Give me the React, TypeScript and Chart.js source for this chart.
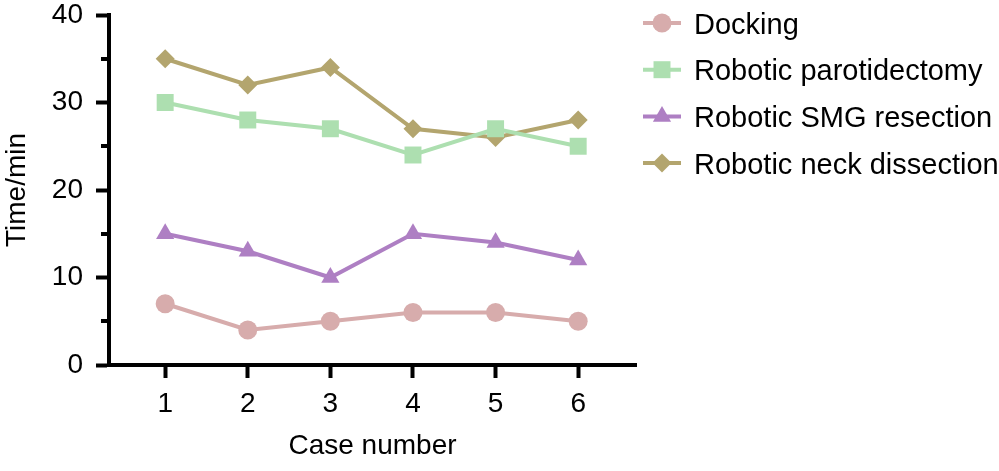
import React, { useEffect, useRef } from "react";
import { Chart, registerables } from "chart.js";

Chart.register(...registerables);

const cases = [1, 2, 3, 4, 5, 6];
const docking = [7, 4, 5, 6, 6, 5];
const parotidectomy = [30, 28, 27, 24, 27, 25];
const smgResection = [15, 13, 10, 15, 14, 12];
const neckDissection = [35, 32, 34, 27, 26, 28];
const seriesNames = [
  "Docking",
  "Robotic parotidectomy",
  "Robotic SMG resection",
  "Robotic neck dissection",
];
const yMajorTicks = [0, 10, 20, 30, 40];
const yMinorTicks = [5, 15, 25, 35];

const FONT = "'Liberation Sans', Arial, Helvetica, sans-serif";
const COLORS = ["#d7acac", "#addfb0", "#ae7fc3", "#b3a56e"];
const STYLES = ["circle", "rect", "triangle", "rectRot"];
const RADII = [9.5, 12, 10.5, 9.5];

function drawMarker(ctx: CanvasRenderingContext2D, style: string, x: number, y: number, r: number, color: string) {
  ctx.fillStyle = color;
  ctx.beginPath();
  if (style === "circle") {
    ctx.arc(x, y, r, 0, Math.PI * 2);
  } else if (style === "rect") {
    const s = r * Math.SQRT1_2;
    ctx.rect(x - s, y - s, 2 * s, 2 * s);
  } else if (style === "triangle") {
    const h = r * 0.866;
    ctx.moveTo(x, y - r);
    ctx.lineTo(x + h, y + r / 2);
    ctx.lineTo(x - h, y + r / 2);
    ctx.closePath();
  } else {
    ctx.moveTo(x, y - r);
    ctx.lineTo(x + r, y);
    ctx.lineTo(x, y + r);
    ctx.lineTo(x - r, y);
    ctx.closePath();
  }
  ctx.fill();
}

const extrasPlugin = {
  id: "extras",
  afterDraw(chart: any) {
    const ctx: CanvasRenderingContext2D = chart.ctx;
    const yScale = chart.scales.y;
    const left = chart.chartArea.left;
    ctx.save();
    ctx.strokeStyle = "#000";
    ctx.lineWidth = 4;
    yMinorTicks.forEach((v) => {
      const py = Math.round(yScale.getPixelForValue(v));
      ctx.beginPath();
      ctx.moveTo(left - 8, py);
      ctx.lineTo(left, py);
      ctx.stroke();
    });
    // legend
    const lx0 = 643;
    const lx1 = 681;
    const ly0 = 23;
    const dy = 46.7;
    ctx.font = `29px ${FONT}`;
    ctx.textBaseline = "alphabetic";
    ctx.textAlign = "left";
    chart.data.datasets.forEach((ds: any, i: number) => {
      const y = ly0 + i * dy;
      ctx.strokeStyle = ds.borderColor;
      ctx.lineWidth = 4;
      ctx.beginPath();
      ctx.moveTo(lx0, y);
      ctx.lineTo(lx1, y);
      ctx.stroke();
      drawMarker(ctx, ds.pointStyle, (lx0 + lx1) / 2, y, ds.pointRadius, ds.borderColor);
      ctx.fillStyle = "#000";
      ctx.fillText(ds.label, 694, y + 10.5);
    });
    ctx.restore();
  },
};

export default function App() {
  const ref = useRef<HTMLCanvasElement | null>(null);
  useEffect(() => {
    document.body.style.margin = "0";
    const seriesData = [docking, parotidectomy, smgResection, neckDissection];
    const chart = new Chart(ref.current as HTMLCanvasElement, {
      type: "line",
      data: {
        datasets: seriesData.map((vals, i) => ({
          label: seriesNames[i],
          data: cases.map((c, j) => ({ x: c, y: vals[j] })),
          borderColor: COLORS[i],
          backgroundColor: COLORS[i],
          borderWidth: 4,
          pointStyle: STYLES[i],
          pointRadius: RADII[i],
          pointBorderWidth: 0,
          pointBackgroundColor: COLORS[i],
          tension: 0,
        })),
      },
      options: {
        animation: false,
        responsive: false,
        devicePixelRatio: 1,
        layout: { padding: { left: 0, top: 15, right: 363, bottom: 0 } },
        plugins: { legend: { display: false }, tooltip: { enabled: false } },
        scales: {
          x: {
            type: "linear",
            min: 0.32,
            max: 6.7,
            afterFit: (s: any) => {
              s.height = 106;
              s.paddingLeft = 0;
              s.paddingRight = 0;
            },
            afterBuildTicks: (s: any) => {
              s.ticks = cases.map((v) => ({ value: v }));
            },
            ticks: {
              font: { family: FONT, size: 28 },
              color: "#000",
              padding: 9,
              callback: (v: any) => String(v),
            },
            grid: {
              drawOnChartArea: false,
              tickLength: 13,
              tickWidth: 4,
              tickColor: "#000",
            },
            border: { color: "#000", width: 4 },
            title: {
              display: true,
              text: "Case number",
              font: { family: FONT, size: 28 },
              color: "#000",
              padding: { top: 0, bottom: 8 },
            },
          },
          y: {
            min: 0,
            max: 40,
            afterFit: (s: any) => {
              s.width = 109;
              s.paddingTop = 0;
              s.paddingBottom = 0;
            },
            afterBuildTicks: (s: any) => {
              s.ticks = yMajorTicks.map((v) => ({ value: v }));
            },
            ticks: {
              font: { family: FONT, size: 28 },
              color: "#000",
              padding: 13,
            },
            grid: {
              drawOnChartArea: false,
              tickLength: 13,
              tickWidth: 4,
              tickColor: "#000",
            },
            border: { color: "#000", width: 4 },
            title: {
              display: true,
              text: "Time/min",
              font: { family: FONT, size: 28 },
              color: "#000",
              padding: { top: 0, bottom: 0 },
            },
          },
        },
      },
      plugins: [extrasPlugin],
    } as any);
    return () => chart.destroy();
  }, []);
  return (
    <div style={{ position: "absolute", left: 0, top: 0, width: 999, height: 471 }}>
      <canvas ref={ref} width={999} height={471} />
    </div>
  );
}
